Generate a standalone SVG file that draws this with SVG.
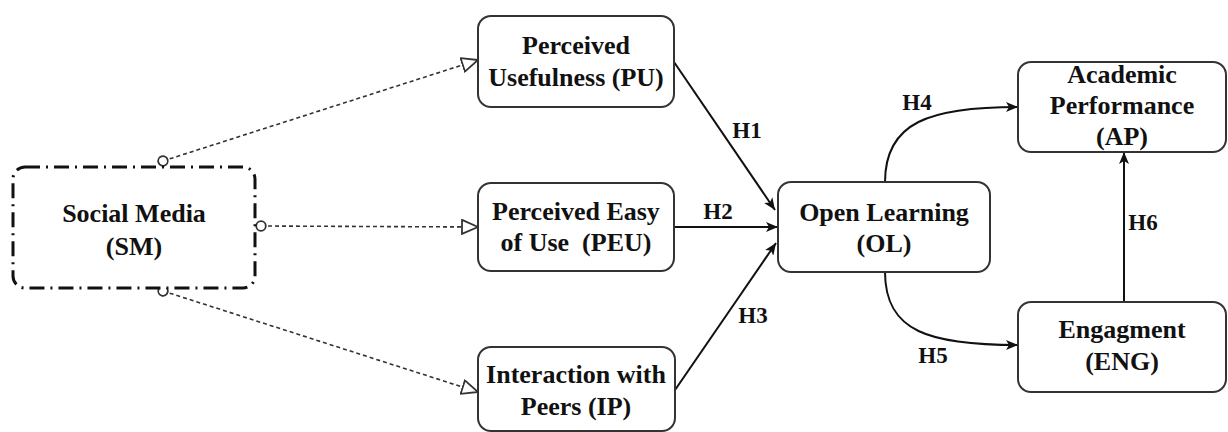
<svg xmlns="http://www.w3.org/2000/svg" width="1228" height="432" viewBox="0 0 1228 432">
<style>
.box{fill:#fff;stroke:#333;stroke-width:2}
.sm{fill:#fff;stroke:#111;stroke-width:3;stroke-dasharray:15 6 2 6}
.t{font-family:'Liberation Serif','Times New Roman',serif;font-weight:bold;font-size:26px;fill:#111;text-anchor:middle}
.h{font-family:'Liberation Serif','Times New Roman',serif;font-weight:bold;font-size:23px;fill:#111;text-anchor:middle}
.dash{fill:none;stroke:#333;stroke-width:1.6;stroke-dasharray:4 3}
.solid{fill:none;stroke:#111;stroke-width:2}
</style>
<defs>
<marker id="arr" viewBox="0 0 12 10" refX="12" refY="5" markerWidth="12" markerHeight="10" markerUnits="userSpaceOnUse" orient="auto">
<path d="M0,0 L12,5 L0,10 L3,5 Z" fill="#111" stroke="none"/>
</marker>
<marker id="tri" viewBox="0 0 18 16" refX="17" refY="8" markerWidth="18" markerHeight="16" markerUnits="userSpaceOnUse" orient="auto">
<path d="M1,1 L17,8 L1,15 Z" fill="#fff" stroke="#333" stroke-width="1.8" stroke-dasharray="none"/>
</marker>
<marker id="oval" viewBox="0 0 12 12" refX="6" refY="6" markerWidth="12" markerHeight="12" markerUnits="userSpaceOnUse" orient="auto">
<circle cx="6" cy="6" r="4.8" fill="#fff" stroke="#333" stroke-width="1.8" stroke-dasharray="none"/>
</marker>
</defs>
<g id="connectors">
<path class="dash" d="M163,161 L478,60" marker-start="url(#oval)" marker-end="url(#tri)"/>
<path class="dash" d="M261,226 L478,227" marker-start="url(#oval)" marker-end="url(#tri)"/>
<path class="dash" d="M163,291 L478,392" marker-start="url(#oval)" marker-end="url(#tri)"/>
<path class="solid" d="M674,62 L775,210" marker-end="url(#arr)"/>
<path class="solid" d="M674,227 L778,227" marker-end="url(#arr)"/>
<path class="solid" d="M675,390 L776,243" marker-end="url(#arr)"/>
<path class="solid" d="M885,182 C885,122 930,107 1018,107" marker-end="url(#arr)"/>
<path class="solid" d="M885,272 C885,332 930,345 1018,345" marker-end="url(#arr)"/>
<path class="solid" d="M1124,302 L1124,152" marker-end="url(#arr)"/>
<text class="h" x="747" y="138">H1</text>
<text class="h" x="718" y="219">H2</text>
<text class="h" x="753" y="323">H3</text>
<text class="h" x="917" y="110">H4</text>
<text class="h" x="933" y="363">H5</text>
<text class="h" x="1143" y="230">H6</text>
</g>
<g id="SM">
<rect class="sm" x="13" y="167" width="242" height="121" rx="12"/>
<text class="t" x="134" y="222">Social Media</text>
<text class="t" x="134" y="255">(SM)</text>
</g>
<g id="PU">
<rect class="box" x="478" y="16" width="196" height="91" rx="13"/>
<text class="t" x="576" y="54">Perceived</text>
<text class="t" x="576" y="86">Usefulness (PU)</text>
</g>
<g id="PEU">
<rect class="box" x="478" y="183" width="196" height="88" rx="13"/>
<text class="t" x="576" y="220">Perceived Easy</text>
<text class="t" x="576" y="251" xml:space="preserve">of Use  (PEU)</text>
</g>
<g id="IP">
<rect class="box" x="478" y="347" width="197" height="84" rx="13"/>
<text class="t" x="576" y="383">Interaction with</text>
<text class="t" x="576" y="415">Peers (IP)</text>
</g>
<g id="OL">
<rect class="box" x="778" y="182" width="212" height="90" rx="13"/>
<text class="t" x="884" y="221">Open Learning</text>
<text class="t" x="884" y="252">(OL)</text>
</g>
<g id="AP">
<rect class="box" x="1018" y="62" width="208" height="90" rx="13"/>
<text class="t" x="1122" y="83">Academic</text>
<text class="t" x="1122" y="114">Performance</text>
<text class="t" x="1122" y="145">(AP)</text>
</g>
<g id="ENG">
<rect class="box" x="1018" y="302" width="208" height="90" rx="13"/>
<text class="t" x="1122" y="338">Engagment</text>
<text class="t" x="1122" y="370">(ENG)</text>
</g>
</svg>
